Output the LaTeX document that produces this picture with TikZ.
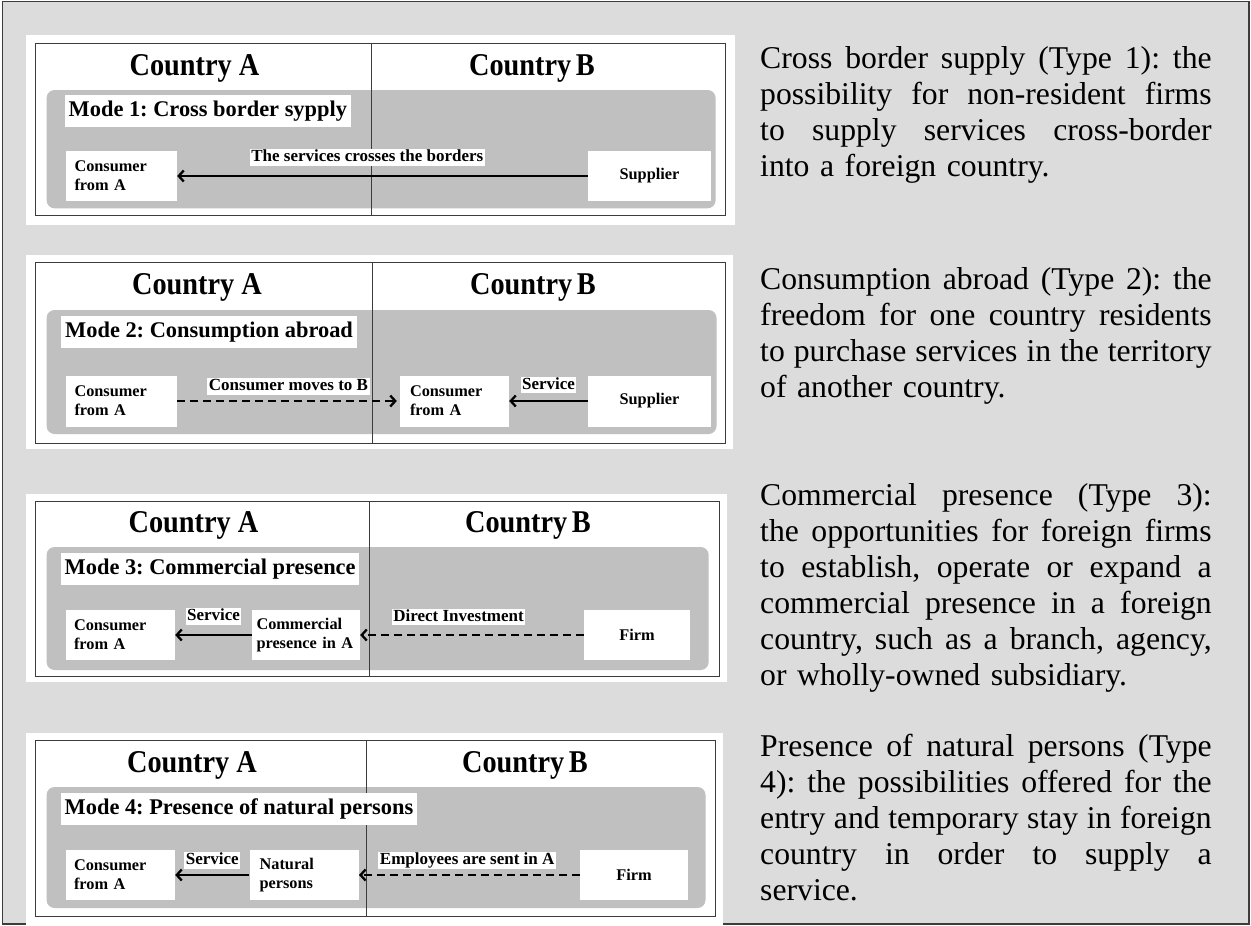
\documentclass[tikz,border=0pt]{standalone}
\usepackage{fontspec}
\setmainfont{Liberation Serif}
\usetikzlibrary{arrows.meta}
\definecolor{pagegray}{HTML}{DCDCDC}
\definecolor{bandgray}{HTML}{C0C0C0}
\definecolor{framegray}{HTML}{3C3C3C}
\frenchspacing
% one fully justified line of the explanatory text
\newcommand{\fl}[1]{\leavevmode\hbox to 451.5pt{\spaceskip=0.25em plus 3em\xspaceskip=0.25em plus 3em #1}}
% taller setting of the country headings
\newcommand{\tallhead}[1]{\scalebox{1}[1.12]{#1}}
\tikzset{
  outerframe/.style={draw=framegray, line width=1.5pt, fill=pagegray},
  photo/.style={fill=white, draw=none},
  pframe/.style={draw=framegray, line width=0.9pt},
  divider/.style={draw=framegray, line width=0.9pt},
  band/.style={fill=bandgray, draw=none, rounded corners=8pt},
  country/.style={font=\fontsize{28.3}{32}\selectfont\bfseries, inner sep=0pt, anchor=base},
  modelabel/.style={fill=white, anchor=west, inner xsep=3.5pt, inner ysep=0pt, minimum height=32pt,
    font=\fontsize{22.4}{26}\selectfont\bfseries},
  actor/.style={fill=white, inner ysep=0pt, align=left, font=\fontsize{16.3}{19}\selectfont\bfseries},
  actorc/.style={fill=white, inner sep=0pt, align=center, font=\fontsize{16.3}{19}\selectfont\bfseries},
  lbl/.style={fill=white, inner xsep=1.5pt, inner ysep=0.5pt, text height=12pt, text depth=3.5pt,
    font=\fontsize{17}{20}\selectfont\bfseries},
  flow/.style={line width=2.3pt, -{Straight Barb[length=5pt,width=11pt]}},
  moveflow/.style={flow, dash pattern=on 8pt off 5pt},
  desc/.style={text width=451.5pt, align=left, inner sep=0pt, anchor=base west,
    font=\fontsize{31.7}{36}\selectfont},
}
\begin{document}
\begin{tikzpicture}[x=1pt,y=-1pt]
\useasboundingbox (0,0) rectangle (1251,926);
\draw[outerframe] (2.7,1.7) rectangle (1249,924);

% ---------- Mode 1 ----------
\fill[photo] (25.5,35) rectangle (735,225);
\draw[pframe] (35,43.3) rectangle (725.7,215.7);
\fill[band] (46.6,90) rectangle (715.6,208.3);
\draw[divider] (371.2,43.3) -- (371.2,215.7);
\node[country] (a1) at (194.5,75) {\tallhead{Country A}};
\node[country] (b1) at (532,75) {\tallhead{Country\,B}};
\node[modelabel] (m1) at (65,110.9) {Mode 1: Cross border sypply};
\node[actor, inner xsep=8.5pt, text width=94pt, minimum height=50pt] (c1) at (121.5,176) {Consumer\\from A};
\node[actorc, minimum width=123pt, minimum height=50pt] (s1) at (649.5,176) {Supplier};
\draw[flow] (s1) -- node[lbl, pos=0.537, above=9pt] {The services crosses the borders} (c1);

% ---------- Mode 2 ----------
\fill[photo] (25.5,255) rectangle (733,449);
\draw[pframe] (35,262.3) rectangle (725.7,443.3);
\fill[band] (46.6,310) rectangle (716.5,434);
\draw[divider] (372.6,262.3) -- (372.6,443.3);
\node[country] (a2) at (197,294) {\tallhead{Country A}};
\node[country] (b2) at (533,294) {\tallhead{Country\,B}};
\node[modelabel, inner xsep=4pt] (m2) at (61,332) {Mode 2: Consumption abroad};
\node[actor, inner xsep=8.5pt, text width=94pt, minimum height=51pt] (ca2) at (121.5,401) {Consumer\\from A};
\node[actor, inner xsep=10pt, text width=89pt, minimum height=51pt] (cb2) at (454.5,401) {Consumer\\from A};
\node[actorc, minimum width=123pt, minimum height=51pt] (s2) at (649.5,401) {Supplier};
\draw[moveflow, shorten >=3pt] (ca2) -- node[lbl, pos=0.5, above=5pt] {Consumer moves to B} (cb2);
\draw[flow] (s2) -- node[lbl, pos=0.5, above=6.5pt] {Service} (cb2);

% ---------- Mode 3 ----------
\fill[photo] (25.5,494) rectangle (727,682);
\draw[pframe] (35,501) rectangle (719,676.7);
\fill[band] (46.6,547) rectangle (708.7,670);
\draw[divider] (369,501) -- (369,676.7);
\node[country] (a3) at (193.5,532.5) {\tallhead{Country A}};
\node[country] (b3) at (528,532.5) {\tallhead{Country\,B}};
\node[modelabel] (m3) at (61,569) {Mode 3: Commercial presence};
\node[actor, inner xsep=8pt, text width=93pt, minimum height=50.5pt] (c3) at (120.5,635) {Consumer\\from A};
\node[actor, inner xsep=4.5pt, text width=99pt, minimum height=50.5pt] (cp3) at (306,635) {Commercial\\presence in A};
\node[actorc, minimum width=106pt, minimum height=50.5pt] (f3) at (637,635) {Firm};
\draw[flow] (cp3) -- node[lbl, pos=0.5, above=9pt] {Service} (c3);
\draw[moveflow] (f3) -- node[lbl, pos=0.56, above=8.5pt] {Direct Investment} (cp3);

% ---------- Mode 4 ----------
\fill[photo] (25.5,733) rectangle (722.5,926);
\draw[pframe] (35,740.7) rectangle (715.6,916.7);
\fill[band] (46.6,787) rectangle (705.5,908);
\draw[divider] (366.6,740.7) -- (366.6,916.7);
\node[country] (a4) at (192,772) {\tallhead{Country A}};
\node[country] (b4) at (525,772) {\tallhead{Country\,B}};
\node[modelabel] (m4) at (61,809) {Mode 4: Presence of natural persons};
\node[actor, inner xsep=8pt, text width=93pt, minimum height=50pt] (c4) at (120.5,875) {Consumer\\from A};
\node[actor, inner xsep=10pt, text width=89.2pt, minimum height=50pt] (np4) at (304.2,875) {Natural\\persons};
\node[actorc, minimum width=108pt, minimum height=50pt] (f4) at (634,875) {Firm};
\draw[flow] (np4) -- node[lbl, pos=0.5, above=5pt] {Service} (c4);
\draw[moveflow] (f4) -- node[lbl, pos=0.51, above=5pt] {Employees are sent in A} (np4);

% ---------- explanations ----------
\node[desc] (t1) at (760,68) {\fl{Cross border supply (Type 1): the}\\
\fl{possibility for non-resident firms}\\
\fl{to supply services cross-border}\\
into a foreign country.};
\node[desc] (t2) at (760,289) {\fl{Consumption abroad (Type 2): the}\\
\fl{freedom for one country residents}\\
\fl{to purchase services in the territory}\\
of another country.};
\node[desc] (t3) at (760,505) {\fl{Commercial presence (Type 3):}\\
\fl{the opportunities for foreign firms}\\
\fl{to establish, operate or expand a}\\
\fl{commercial presence in a foreign}\\
\fl{country, such as a branch, agency,}\\
or wholly-owned subsidiary.};
\node[desc] (t4) at (760,756.5) {\fl{Presence of natural persons (Type}\\
\fl{4): the possibilities offered for the}\\
\fl{entry and temporary stay in foreign}\\
\fl{country in order to supply a}\\
service.};
\end{tikzpicture}
\end{document}
